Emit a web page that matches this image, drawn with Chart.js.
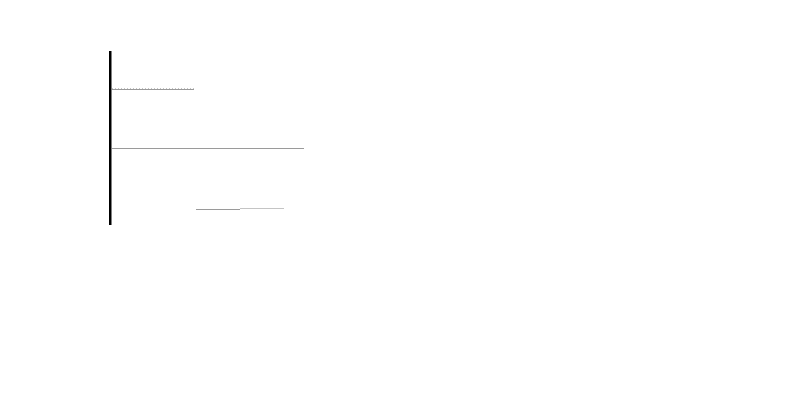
<!DOCTYPE html>
<html><head><meta charset="utf-8">
<script src="https://cdn.jsdelivr.net/npm/chart.js@4"></script>
<style>html,body{margin:0;padding:0;background:#fff}#wrap{width:800px;height:418px}</style>
</head><body><div id="wrap"><canvas id="c"></canvas></div>
<script>
// Horizontal segments: [start, end] on the x scale, row position on the y scale
const segStart = [2, 2, 2, 86, 130];
const segEnd   = [84, 84, 194, 130, 174];
const segRow   = [36.5, 37.5, 96.5, 157.5, 156.5];
const segColor = ['#c4c4c4', '#9a9a9a', '#9a9a9a', '#9a9a9a', '#c4c4c4'];
const segDash  = [[1, 2], [], [], [], []];
const xMax = 680;
const yMax = 172;

const datasets = segStart.map((s, i) => ({
  data: [{x: s, y: segRow[i]}, {x: segEnd[i], y: segRow[i]}],
  showLine: true,
  borderColor: segColor[i],
  borderWidth: 1,
  borderDash: segDash[i],
  pointRadius: 0,
  fill: false
}));

new Chart(document.getElementById('c'), {
  type: 'scatter',
  data: { datasets },
  options: {
    responsive: true,
    maintainAspectRatio: false,
    animation: false,
    layout: { padding: { left: 110, top: 52, right: 10, bottom: 194 } },
    plugins: { legend: { display: false }, tooltip: { enabled: false } },
    scales: {
      x: { type: 'linear', min: 0, max: xMax, display: false },
      y: {
        type: 'linear', min: 0, max: yMax, reverse: true,
        grid: { display: false, drawTicks: false },
        ticks: { display: false },
        border: { display: true, color: '#000', width: 2.5 }
      }
    }
  }
});
</script></body></html>
